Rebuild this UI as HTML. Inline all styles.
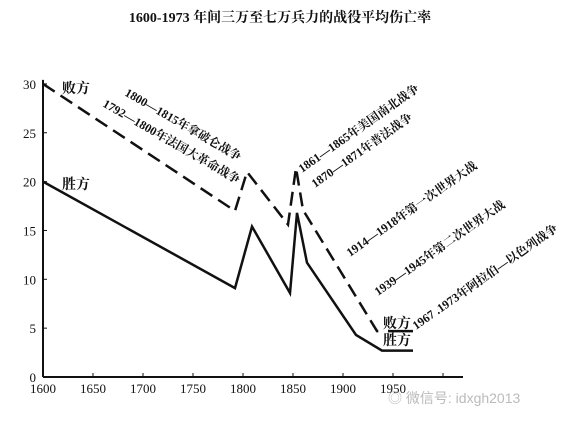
<!DOCTYPE html>
<html><head><meta charset="utf-8"><style>
html,body{margin:0;padding:0;background:#fff;width:572px;height:429px;overflow:hidden}
text{font-family:"Liberation Serif","Noto Serif CJK SC",serif;fill:#111}
</style></head><body>
<svg width="572" height="429" xmlns="http://www.w3.org/2000/svg">
<text x="280" y="22" text-anchor="middle" font-size="14" font-weight="bold">1600-1973 年间三万至七万兵力的战役平均伤亡率</text>
<g id="axes"></g>
<g id="series"></g>
<g font-size="12" font-weight="bold">
<text x="62" y="93" font-size="14">败方</text>
<text x="62" y="189" font-size="14">胜方</text>
<text transform="translate(124,95) rotate(30)">1800—1815年拿破仑战争</text>
<text transform="translate(102,106) rotate(30)">1792—1800年法国大革命战争</text>
<text transform="translate(302,173) rotate(-35)">1861—1865年美国南北战争</text>
<text transform="translate(315,188) rotate(-35)">1870—1871年普法战争</text>
<text transform="translate(350,257) rotate(-35)">1914—1918年第一次世界大战</text>
<text transform="translate(378,296) rotate(-35)">1939—1945年第二次世界大战</text>
<text transform="translate(416,330) rotate(-35)">1967 .1973年阿拉伯—以色列战争</text>
<text x="383" y="328" font-size="14">败方</text>
<text x="383" y="345" font-size="14">胜方</text>
</g>
<text x="388" y="403" font-size="14" style="fill:#bbb;font-family:'Liberation Sans','Noto Sans CJK SC',sans-serif">◎ 微信号: idxgh2013</text>
</svg>
<script>
const xTicks=[1600,1650,1700,1750,1800,1850,1900,1950];
const yTicks=[0,5,10,15,20,25,30];
const loserYears=[1600,1792,1804,1845,1853,1860,1934,1942];
const loserValues=[30,17,21,15.6,21.4,17.1,4.7,4.7];
const loserTail=[[1945,4.7],[1970,4.7]];
const winnerYears=[1600,1792,1809,1847,1854,1864,1913,1939,1970];
const winnerValues=[20,9.1,15.4,8.6,16.8,11.7,4.3,2.7,2.7];
const X=y=>43+(y-1600)*1.0;
const Y=v=>377-v*9.77;
const ns="http://www.w3.org/2000/svg";
const ax=document.getElementById('axes'),se=document.getElementById('series');
function mk(t,a,p){const e=document.createElementNS(ns,t);for(const k in a)e.setAttribute(k,a[k]);p.appendChild(e);return e;}
let e=mk('line',{x1:X(1600),y1:Y(0),x2:463,y2:Y(0),stroke:'#111','stroke-width':2},ax);

e=mk('line',{x1:X(1600),y1:Y(0),x2:X(1600),y2:Y(30)-4,stroke:'#111','stroke-width':2},ax);

xTicks.concat([2000]).forEach(t=>{mk('line',{x1:X(t),y1:Y(0),x2:X(t),y2:Y(0)-4,stroke:'#111','stroke-width':1},ax);});
xTicks.forEach(t=>{e=mk('text',{x:X(t),y:Y(0)+16,'text-anchor':'middle','font-size':13},ax);e.textContent=t;
});
yTicks.forEach(t=>{mk('line',{x1:X(1600),y1:Y(t),x2:X(1600)+4,y2:Y(t),stroke:'#111'},ax);
e=mk('text',{x:36,y:Y(t)+5,'text-anchor':'end','font-size':13},ax);e.textContent=t;
});
e=mk('polyline',{points:winnerYears.map((y,i)=>X(y)+','+Y(winnerValues[i])).join(' '),fill:'none',stroke:'#111','stroke-width':2.5},se);

e=mk('polyline',{points:loserYears.map((y,i)=>X(y)+','+Y(loserValues[i])).join(' '),fill:'none',stroke:'#111','stroke-width':2.5,'stroke-dasharray':'14,7'},se);

e=mk('polyline',{points:loserTail.map(p=>X(p[0])+','+Y(p[1])).join(' '),fill:'none',stroke:'#111','stroke-width':2.5},se);

</script>
</body></html>
